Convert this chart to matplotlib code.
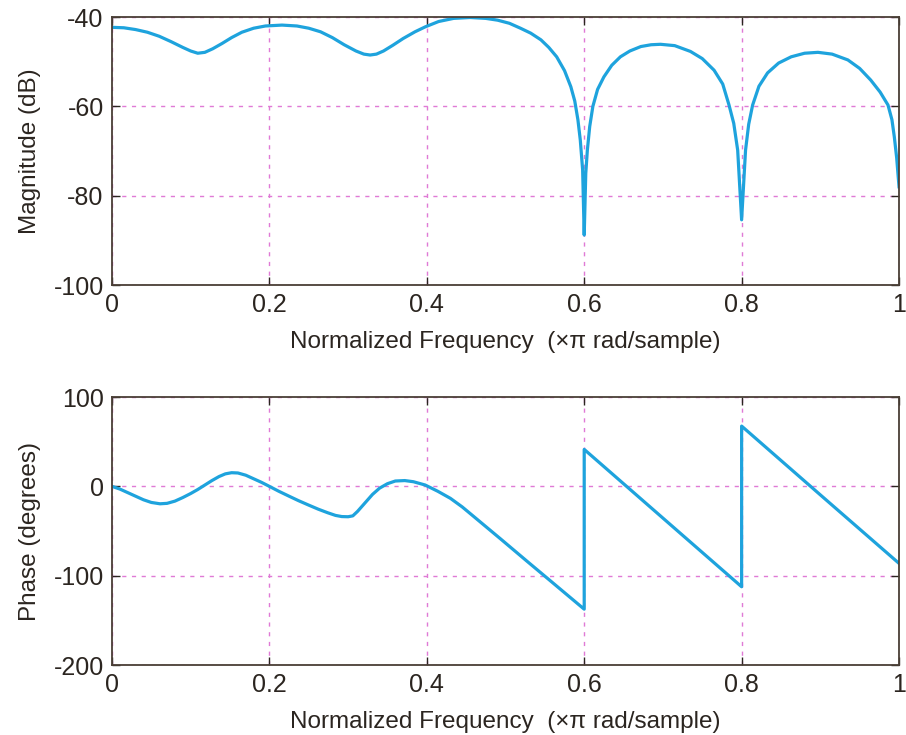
import numpy as np
import matplotlib.pyplot as plt

plt.rcParams['font.family'] = ['Liberation Sans', 'DejaVu Sans']
plt.rcParams['axes.unicode_minus'] = False

# magnitude response
mag_f = [0.000, 0.015, 0.030, 0.045, 0.060, 0.075, 0.090, 0.100, 0.109, 0.118,
         0.128, 0.140, 0.152, 0.165, 0.180, 0.195, 0.216, 0.235, 0.250, 0.265,
         0.280, 0.295, 0.310, 0.320, 0.328, 0.336, 0.345, 0.357, 0.370, 0.385,
         0.398, 0.415, 0.434, 0.455, 0.475, 0.490, 0.505, 0.519, 0.532, 0.545,
         0.555, 0.565, 0.575, 0.583, 0.588, 0.592, 0.595, 0.598, 0.600, 0.602,
         0.604, 0.607, 0.611, 0.617, 0.625, 0.635, 0.646, 0.658, 0.672, 0.685,
         0.697, 0.715, 0.735, 0.750, 0.765, 0.776, 0.784, 0.790, 0.795, 0.800,
         0.805, 0.809, 0.814, 0.822, 0.833, 0.847, 0.863, 0.880, 0.897, 0.915,
         0.935, 0.950, 0.964, 0.976, 0.986, 0.991, 0.994, 0.997, 1.000]
mag_db = [-42.3, -42.4, -42.8, -43.4, -44.3, -45.5, -46.8, -47.6, -48.1, -47.9,
          -47.1, -45.9, -44.6, -43.4, -42.5, -42.0, -41.8, -42.0, -42.5, -43.3,
          -44.6, -46.2, -47.6, -48.3, -48.5, -48.3, -47.6, -46.3, -44.8, -43.3,
          -42.2, -41.0, -40.3, -40.1, -40.3, -40.7, -41.4, -42.5, -43.6, -45.1,
          -46.8, -48.9, -52.0, -55.6, -58.8, -63.0, -67.5, -74.2, -88.8, -75.0,
          -69.8, -64.5, -60.0, -56.2, -53.4, -50.8, -48.9, -47.6, -46.6, -46.2,
          -46.1, -46.4, -47.7, -49.3, -51.9, -55.0, -59.7, -63.8, -69.8, -85.4,
          -69.8, -64.0, -59.7, -55.5, -52.5, -50.3, -48.9, -48.1, -47.9, -48.3,
          -49.6, -51.5, -54.1, -56.8, -59.7, -63.0, -66.8, -71.5, -78.0]

# phase response
ph_f = [0.000, 0.010, 0.020, 0.030, 0.040, 0.050, 0.061, 0.070, 0.080, 0.090,
        0.100, 0.109, 0.118, 0.127, 0.136, 0.144, 0.152, 0.160, 0.170, 0.180,
        0.190, 0.200, 0.212, 0.225, 0.237, 0.250, 0.262, 0.274, 0.284, 0.292,
        0.300, 0.306, 0.312, 0.320, 0.331, 0.340, 0.350, 0.360, 0.372, 0.383,
        0.398, 0.414, 0.430, 0.445, 0.460, 0.494, 0.528, 0.557,
        0.600, 0.600, 0.700, 0.800, 0.800, 0.900, 1.000]
ph_deg = [0, -3, -7, -11, -15, -18, -19.5, -19, -16.5, -12.5,
          -8, -3.5, 1.5, 6.5, 11, 14, 15.3, 15, 12.5, 8.5,
          4.5, 0, -5.5, -11, -16, -21, -25.5, -29.5, -32.5, -33.8,
          -34, -33, -28, -20, -9, -2, 3, 6, 6.5, 5.2,
          1.5, -5.5, -13.4, -23, -34, -59, -84.3, -105.7,
          -137.5, 41.4, -35.5, -112.4, 67.5, -9.5, -86.2]

xticks = [0, 0.2, 0.4, 0.6, 0.8, 1]
xticklabels = ['0', '0.2', '0.4', '0.6', '0.8', '1']
xlabel = 'Normalized Frequency  (\u00d7\u03c0 rad/sample)'

line_c = '#1ea3dd'
grid_c = '#e07ad6'
ink = '#2b2520'

fig = plt.figure(figsize=(9.06, 7.35), dpi=100)
ax1 = fig.add_axes([0.1236, 0.6122, 0.8687, 0.3646])
ax2 = fig.add_axes([0.1236, 0.0952, 0.8687, 0.3646])

ax1.plot(mag_f, mag_db, color=line_c, lw=2.3)
ax1.set_ylim(-100, -40)
ax1.set_yticks([-100, -80, -60, -40])
ax1.set_ylabel('Magnitude (dB)')

ax2.plot(ph_f, ph_deg, color=line_c, lw=2.3)
ax2.set_ylim(-200, 100)
ax2.set_yticks([-200, -100, 0, 100])
ax2.set_ylabel('Phase (degrees)')

for ax in (ax1, ax2):
    ax.set_xlim(0, 1)
    ax.set_xticks(xticks)
    ax.set_xticklabels(xticklabels)
    ax.set_xlabel(xlabel, fontsize=17.5, color=ink, labelpad=10)
    ax.yaxis.label.set_fontsize(17.5)
    ax.yaxis.label.set_color(ink)
    ax.yaxis.labelpad = 9
    ax.grid(True, color=grid_c, ls=(0, (3, 4)), lw=1.0)
    ax.tick_params(direction='in', length=6, width=1.0, colors=ink,
                   labelsize=18, top=True, right=True, pad=6)
    for s in ax.spines.values():
        s.set_color('#4a3f36')
        s.set_linewidth(1.3)

fig.savefig('out.png', dpi=100)
